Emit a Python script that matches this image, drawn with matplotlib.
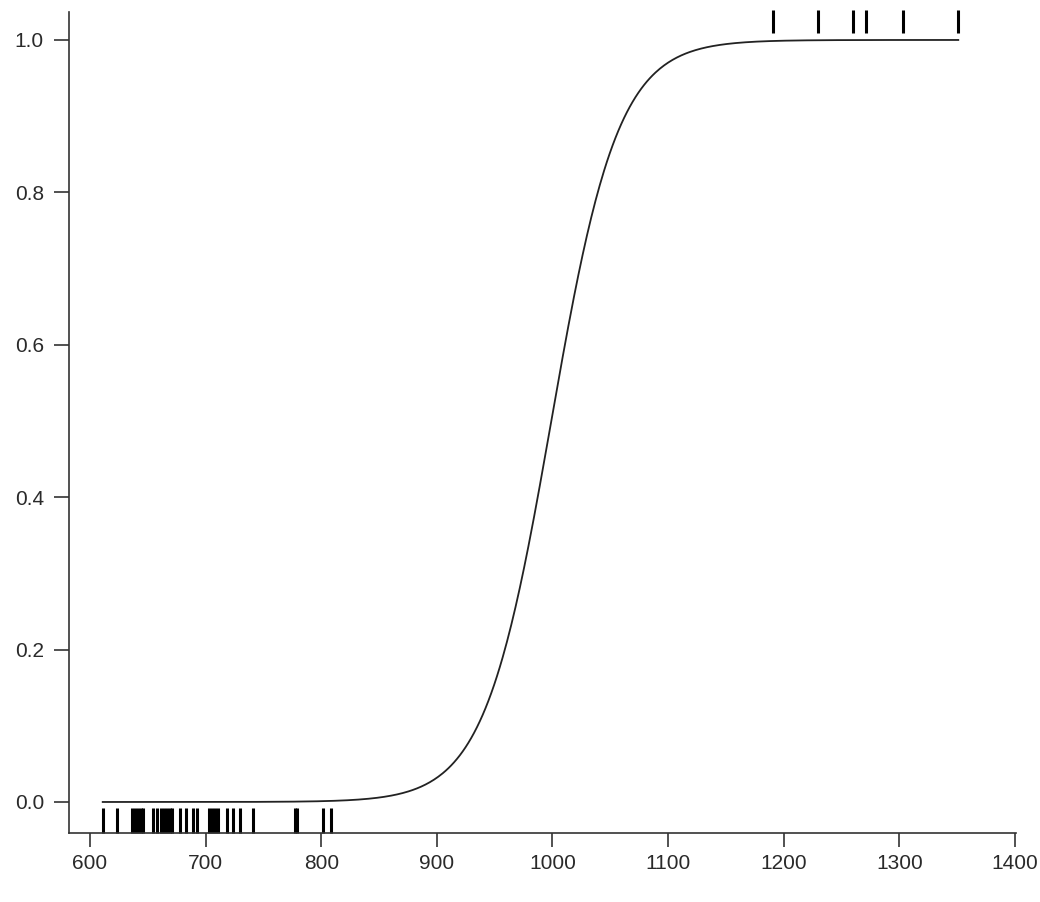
import numpy as np
import matplotlib.pyplot as plt

plt.rcParams['font.family'] = ['Liberation Sans', 'DejaVu Sans']

# observations with outcome 0 (bottom rug) and outcome 1 (top rug)
x_zero = [611, 623, 636, 639, 641.5, 644, 646, 654.5, 658, 661, 664, 667,
          669, 671, 678, 683, 689, 692.5, 703, 705.5, 708, 711, 718.5,
          723.5, 730, 741, 777, 779, 801.5, 808.5]
x_one = [1191, 1230, 1260, 1271, 1303, 1351]

# fitted logistic curve parameters
midpoint = 999.0
slope = 0.0345

x_all = x_zero + x_one
xs = np.linspace(min(x_all), max(x_all), 600)
prob = 1.0 / (1.0 + np.exp(-slope * (xs - midpoint)))

fig = plt.figure(figsize=(10.4, 9.02), dpi=100)
ax = fig.add_axes([0.0663, 0.0765, 0.9107, 0.9102])

ax.plot(xs, prob, color='#222222', lw=1.3)

# rug marks
ax.vlines(x_zero, -0.0079, -0.0407, color='black', lw=2.2, clip_on=False)
ax.vlines(x_one, 1.009, 1.039, color='black', lw=2.2, clip_on=False)

ax.set_xlim(581.8, 1401)
ax.set_ylim(-0.0407, 1.0367)
ax.set_xticks(np.arange(600, 1401, 100))
ax.set_yticks([0.0, 0.2, 0.4, 0.6, 0.8, 1.0])
ax.set_yticklabels(['0.0', '0.2', '0.4', '0.6', '0.8', '1.0'])

for side in ['top', 'right']:
    ax.spines[side].set_visible(False)
for side in ['left', 'bottom']:
    ax.spines[side].set_color('#333333')
    ax.spines[side].set_linewidth(1.2)

ax.tick_params(axis='both', width=1.2, color='#333333',
               labelsize=15, labelcolor='#2a2a2a')
ax.tick_params(axis='x', length=10, pad=5)
ax.tick_params(axis='y', length=11, pad=7)

fig.savefig('out.png', dpi=100)
